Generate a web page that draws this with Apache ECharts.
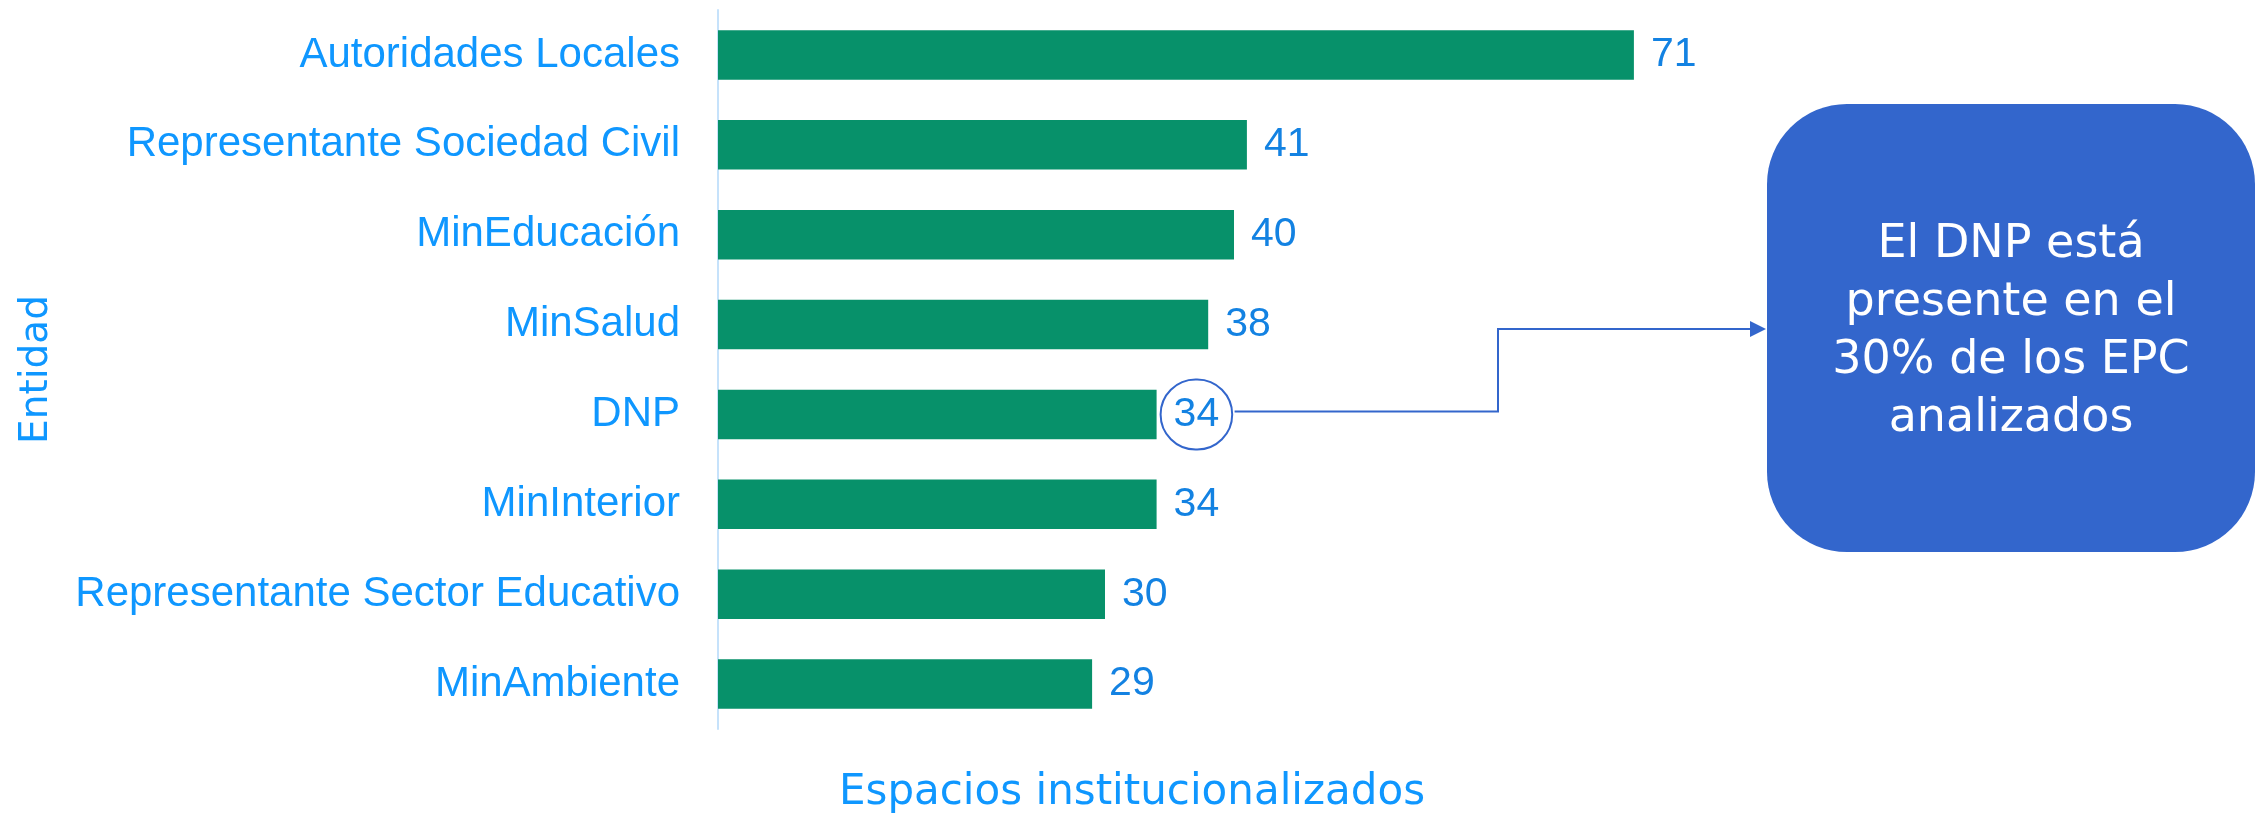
<!DOCTYPE html>
<html>
<head>
<meta charset="utf-8">
<script src="https://cdn.jsdelivr.net/npm/echarts@6/dist/echarts.min.js"></script>
<style>
  html, body { margin: 0; padding: 0; background: #fff; }
  #chart { width: 2267px; height: 813px; }
</style>
</head>
<body>
<div id="chart"></div>
<script>
  // datos
  const categories = ['Autoridades Locales', 'Representante Sociedad Civil', 'MinEducación', 'MinSalud',
    'DNP', 'MinInterior', 'Representante Sector Educativo', 'MinAmbiente']
  const values = [71, 41, 40, 38, 34, 34, 30, 29]
  const highlight = 'DNP'
  const xName = 'Espacios institucionalizados'
  const yName = 'Entidad'
  const boxText = 'El DNP está\npresente en el\n30% de los EPC\nanalizados'

  const labelBlue = '#0F97FF'
  const valueBlue = '#1382E2'
  const calloutBlue = '#3366CC'

  const chart = echarts.init(document.getElementById('chart'))

  const seriesData = values.map((v, i) => {
    if (categories[i] !== highlight) return v
    return {
      value: v,
      label: {
        distance: 4,
        padding: [15, 13, 14, 13],
        borderColor: calloutBlue,
        borderWidth: 2,
        borderRadius: 37
      }
    }
  })

  let option = {
    animation: false,
    grid: { left: 718, top: 10, height: 719, width: 1032 },
    xAxis: { type: 'value', min: 0, max: 80, show: false },
    yAxis: {
      type: 'category',
      inverse: true,
      data: categories,
      axisLine: { show: true, lineStyle: { color: '#C6E2FB', width: 2 } },
      axisTick: { show: false },
      axisLabel: { margin: 38, fontSize: 42, color: labelBlue, fontFamily: 'Liberation Sans' },
      name: yName,
      nameLocation: 'middle',
      nameRotate: 90,
      nameGap: 662,
      nameTextStyle: { fontSize: 39, color: labelBlue, fontFamily: 'DejaVu Sans' }
    },
    series: [{
      type: 'bar',
      data: seriesData,
      barCategoryGap: '45%',
      itemStyle: { color: '#07916A' },
      label: {
        show: true,
        position: 'right',
        distance: 17,
        fontSize: 41,
        color: valueBlue,
        fontFamily: 'Liberation Sans'
      }
    }]
  }
  chart.setOption(option)

  // anotación: conector desde la etiqueta de DNP hasta el cuadro
  const idx = categories.indexOf(highlight)
  const p = chart.convertToPixel({ gridIndex: 0 }, [values[idx], categories[idx]])
  const startX = p[0] + 4 + 74
  const lineY = p[1] - 3
  const elbowX = 1498
  const arrowY = 329
  const boxX = 1767

  chart.setOption({
    graphic: [
      {
        type: 'text',
        x: 1132, y: 793,
        style: {
          text: xName, fontSize: 42, fill: labelBlue, fontFamily: 'DejaVu Sans',
          align: 'center', verticalAlign: 'middle'
        }
      },
      {
        type: 'polyline',
        shape: { points: [[startX, lineY], [elbowX, lineY], [elbowX, arrowY], [boxX - 14, arrowY]] },
        style: { stroke: calloutBlue, lineWidth: 2, fill: null }
      },
      {
        type: 'polygon',
        shape: { points: [[boxX - 17, arrowY - 8], [boxX - 1, arrowY], [boxX - 17, arrowY + 8]] },
        style: { fill: calloutBlue }
      },
      {
        type: 'rect',
        shape: { x: boxX, y: 104, width: 488, height: 448, r: 80 },
        style: { fill: calloutBlue }
      },
      {
        type: 'text',
        x: boxX + 244, y: 332,
        style: {
          text: boxText, fontSize: 46, lineHeight: 58, fill: '#fff',
          fontFamily: 'DejaVu Sans', align: 'center', verticalAlign: 'middle'
        }
      }
    ]
  })
</script>
</body>
</html>
